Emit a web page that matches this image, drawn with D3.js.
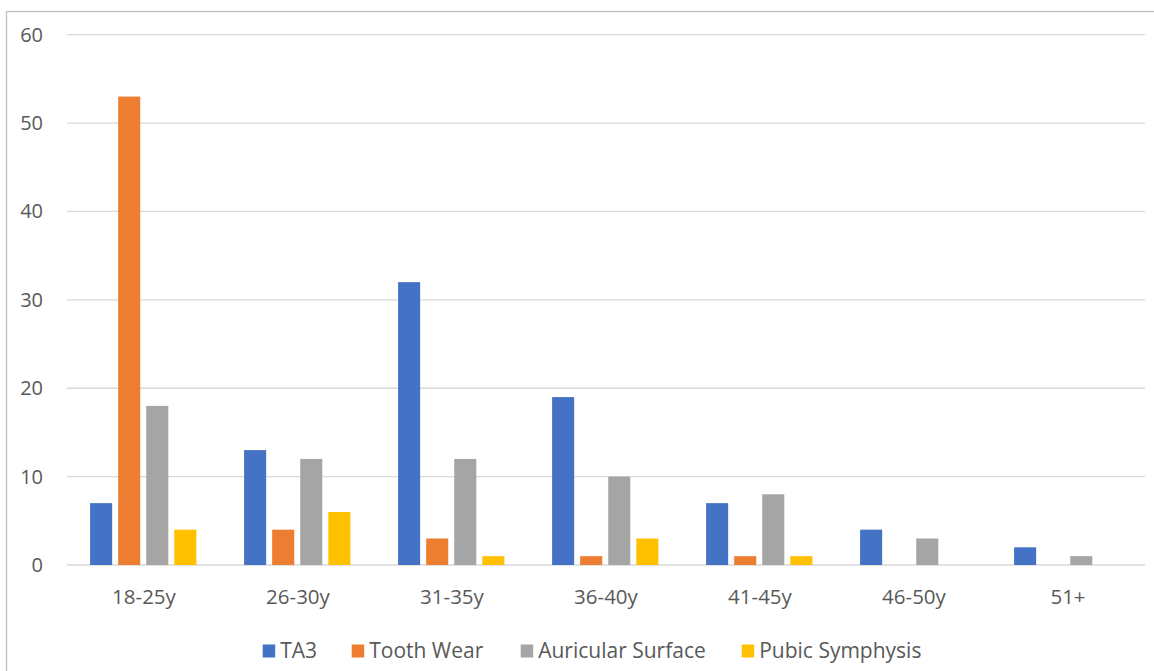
<!DOCTYPE html>
<html>
<head>
<meta charset="utf-8">
<script src="https://cdn.jsdelivr.net/npm/d3@7"></script>
<style>
  html, body { margin: 0; padding: 0; background: #fff; }
  svg { display: block; font-family: "Open Sans", sans-serif; }
</style>
</head>
<body>
<svg id="chart" width="1154" height="671"></svg>
<script>
// Age-at-death estimates by method and age bracket
const categories = ["18-25y", "26-30y", "31-35y", "36-40y", "41-45y", "46-50y", "51+"];
const seriesNames = ["TA3", "Tooth Wear", "Auricular Surface", "Pubic Symphysis"];
const ta3 = [7, 13, 32, 19, 7, 4, 2];
const toothWear = [53, 4, 3, 1, 1, 0, 0];
const auricularSurface = [18, 12, 12, 10, 8, 3, 1];
const pubicSymphysis = [4, 6, 1, 3, 1, 0, 0];
const yTicks = [0, 10, 20, 30, 40, 50, 60];
const colors = ["#4472C4", "#ED7D31", "#A5A5A5", "#FFC000"];

const seriesValues = [ta3, toothWear, auricularSurface, pubicSymphysis];

const svg = d3.select("#chart");

// outer frame
svg.append("rect")
  .attr("x", 6.5).attr("y", 11.5)
  .attr("width", 1160).attr("height", 680)
  .attr("fill", "none").attr("stroke", "#BFBFBF").attr("stroke-width", 1.3);

const plot = { left: 67, right: 1145, top: 34.7, bottom: 565 };

const y = d3.scaleLinear().domain([0, 60]).range([plot.bottom, plot.top]);
const x0 = d3.scaleBand().domain(categories).range([plot.left, plot.right]).padding(0);
const bw = x0.bandwidth();
const x1 = d3.scaleBand().domain(seriesNames)
  .range([bw * 0.15, bw * 0.84]).paddingInner(0.214).paddingOuter(0);

// gridlines
svg.append("g").selectAll("line").data(yTicks).join("line")
  .attr("x1", plot.left).attr("x2", plot.right)
  .attr("y1", d => y(d)).attr("y2", d => y(d))
  .attr("stroke", "#D9D9D9").attr("stroke-width", 1.3);

// y tick labels
svg.append("g").selectAll("text").data(yTicks).join("text")
  .attr("x", 43).attr("y", d => y(d))
  .attr("dy", "0.35em")
  .attr("text-anchor", "end")
  .attr("fill", "#595959")
  .attr("font-size", 20)
  .text(d => d);

// bars
const groups = svg.append("g").selectAll("g").data(categories).join("g")
  .attr("transform", c => `translate(${x0(c)},0)`);

groups.selectAll("rect")
  .data((c, i) => seriesNames.map((s, j) => ({ s, v: seriesValues[j][i], color: colors[j] })))
  .join("rect")
  .attr("x", d => x1(d.s))
  .attr("width", x1.bandwidth())
  .attr("y", d => y(d.v))
  .attr("height", d => y(0) - y(d.v))
  .attr("fill", d => d.color);

// x category labels
svg.append("g").selectAll("text").data(categories).join("text")
  .attr("x", c => x0(c) + bw / 2)
  .attr("y", 597)
  .attr("dy", "0.35em")
  .attr("text-anchor", "middle")
  .attr("fill", "#595959")
  .attr("font-size", 20.5)
  .text(c => c);

// legend
const legendX = [262.7, 351.7, 520.7, 741.7];
const legend = svg.append("g").selectAll("g").data(seriesNames).join("g")
  .attr("transform", (s, i) => `translate(${legendX[i]},651)`);
legend.append("rect")
  .attr("x", 0).attr("y", -6.5).attr("width", 12.5).attr("height", 13)
  .attr("fill", (s, i) => colors[i]);
legend.append("text")
  .attr("x", 17.5).attr("y", 0).attr("dy", "0.35em")
  .attr("fill", "#595959").attr("font-size", 21)
  .text(s => s);
</script>
</body>
</html>
